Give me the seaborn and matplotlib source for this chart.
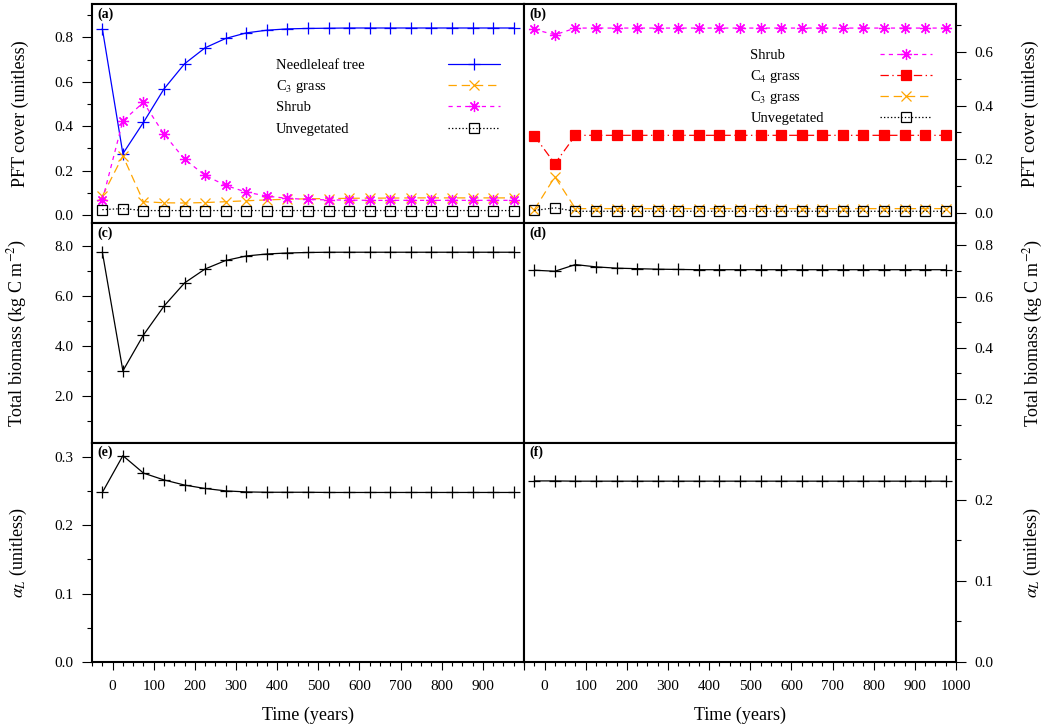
import matplotlib
matplotlib.use("Agg")
import matplotlib.pyplot as plt
import seaborn as sns
from matplotlib.ticker import MultipleLocator, FormatStrFormatter, FuncFormatter
from matplotlib.lines import Line2D

# time axis (years), one point every 50 years
years = [-25, 25, 75, 125, 175, 225, 275, 325, 375, 425, 475,
         525, 575, 625, 675, 725, 775, 825, 875, 925, 975]

# (a) PFT cover, left site
a_needleleaf = [0.839, 0.276, 0.417, 0.568, 0.681, 0.753, 0.795, 0.820, 0.832, 0.838, 0.840,
                0.841, 0.842, 0.842, 0.842, 0.842, 0.842, 0.842, 0.842, 0.842, 0.842]
a_c3 = [0.085, 0.266, 0.060, 0.055, 0.054, 0.056, 0.060, 0.064, 0.068, 0.071, 0.073,
        0.074, 0.075, 0.076, 0.076, 0.077, 0.077, 0.077, 0.077, 0.077, 0.077]
a_shrub = [0.066, 0.424, 0.507, 0.364, 0.251, 0.178, 0.133, 0.103, 0.085, 0.075, 0.070,
           0.068, 0.067, 0.066, 0.066, 0.066, 0.066, 0.066, 0.066, 0.066, 0.066]
a_unveg = [0.024, 0.029, 0.020, 0.020, 0.020, 0.020, 0.020, 0.020, 0.020, 0.020, 0.020,
           0.020, 0.020, 0.020, 0.020, 0.020, 0.020, 0.020, 0.020, 0.020, 0.020]

# (b) PFT cover, right site
b_shrub = [0.685, 0.665, 0.690, 0.690, 0.690, 0.690, 0.690, 0.690, 0.690, 0.690, 0.690,
           0.690, 0.690, 0.690, 0.690, 0.690, 0.690, 0.690, 0.690, 0.690, 0.690]
b_c4 = [0.287, 0.183, 0.289, 0.289, 0.289, 0.289, 0.289, 0.289, 0.289, 0.289, 0.289,
        0.289, 0.289, 0.289, 0.289, 0.289, 0.289, 0.289, 0.289, 0.289, 0.289]
b_c3 = [0.011, 0.134, 0.015, 0.015, 0.015, 0.015, 0.015, 0.015, 0.015, 0.015, 0.015,
        0.015, 0.015, 0.015, 0.015, 0.015, 0.015, 0.015, 0.015, 0.015, 0.015]
b_unveg = [0.008, 0.018, 0.005, 0.005, 0.005, 0.005, 0.005, 0.005, 0.005, 0.005, 0.005,
           0.005, 0.005, 0.005, 0.005, 0.005, 0.005, 0.005, 0.005, 0.005, 0.005]

# (c), (d) total biomass
c_biomass = [7.77, 3.00, 4.44, 5.60, 6.53, 7.09, 7.43, 7.61, 7.69, 7.73, 7.75,
             7.76, 7.76, 7.76, 7.76, 7.76, 7.76, 7.76, 7.76, 7.76, 7.76]
d_biomass = [0.703, 0.699, 0.725, 0.716, 0.711, 0.709, 0.707, 0.706, 0.705, 0.705, 0.705,
             0.705, 0.705, 0.705, 0.705, 0.705, 0.705, 0.705, 0.705, 0.705, 0.705]

# (e), (f) alpha_L
e_alpha = [0.2477, 0.3015, 0.276, 0.266, 0.2585, 0.2535, 0.250, 0.2485, 0.248, 0.248, 0.248,
           0.2477, 0.2477, 0.2477, 0.2477, 0.2477, 0.2477, 0.2477, 0.2477, 0.2477, 0.2477]
f_alpha = [0.2233, 0.2233, 0.223, 0.223, 0.223, 0.223, 0.223, 0.223, 0.223, 0.223, 0.223,
           0.223, 0.223, 0.223, 0.223, 0.223, 0.223, 0.223, 0.223, 0.223, 0.223]

sns.set_style("ticks")
plt.rcParams["font.family"] = ["Liberation Serif", "DejaVu Serif"]
plt.rcParams["mathtext.fontset"] = "stix"
plt.rcParams["lines.scale_dashes"] = False
plt.rcParams["text.color"] = "black"
plt.rcParams["axes.labelcolor"] = "black"
plt.rcParams["axes.edgecolor"] = "black"
plt.rcParams["xtick.color"] = "black"
plt.rcParams["ytick.color"] = "black"

styles = {
    "Needleleaf tree": dict(color="#0000ff", marker="+", linestyle="-", markersize=8,
                            markerfacecolor="none"),
    "C$_3$ grass": dict(color="#ffa500", marker="x", linestyle=(0, (6, 3.5)), markersize=6.5,
                        markerfacecolor="none"),
    "Shrub": dict(color="#ff00ff", marker=(8, 2, 0), linestyle=(0, (3, 3)), markersize=8,
                  markerfacecolor="none"),
    "C$_4$ grass": dict(color="#ff0000", marker="s", linestyle=(0, (6, 2.5, 1, 2.5)),
                        markersize=7, markerfacecolor="#ff0000"),
    "Unvegetated": dict(color="black", marker="s", linestyle=(0, (1, 1.5)), markersize=7,
                        markerfacecolor="none"),
}


def draw_series(ax, y, name):
    st = styles[name]
    sns.lineplot(x=years, y=y, ax=ax, color=st["color"], marker=st["marker"],
                 linestyle=st["linestyle"], markersize=st["markersize"],
                 markerfacecolor=st["markerfacecolor"], markeredgecolor=st["color"],
                 markeredgewidth=0.9, linewidth=0.9, errorbar=None)


def draw_key(ax, names, x_text, x0, x1, y_top, step):
    for i, name in enumerate(names):
        st = styles[name]
        y = y_top - i * step
        ax.text(x_text, y - 0.023, name, transform=ax.transAxes, fontsize=10.5,
                ha="left", va="baseline")
        ax.add_line(Line2D([x0, (x0 + x1) / 2, x1], [y, y, y], transform=ax.transAxes,
                           color=st["color"], linestyle=st["linestyle"], linewidth=0.9,
                           marker=st["marker"], markevery=[1], markersize=st["markersize"],
                           markerfacecolor=st["markerfacecolor"],
                           markeredgecolor=st["color"], markeredgewidth=0.9,
                           clip_on=False))


fig, axes = plt.subplots(3, 2, figsize=(10.47, 7.28), dpi=100)
fig.subplots_adjust(left=0.0879, right=0.9131, top=0.9945, bottom=0.0907,
                    wspace=0, hspace=0)

# panel (a)
ax = axes[0, 0]
draw_series(ax, a_needleleaf, "Needleleaf tree")
draw_series(ax, a_c3, "C$_3$ grass")
draw_series(ax, a_shrub, "Shrub")
draw_series(ax, a_unveg, "Unvegetated")
draw_key(ax, ["Needleleaf tree", "C$_3$ grass", "Shrub", "Unvegetated"],
         0.425, 0.824, 0.945, 0.728, 0.0973)

# panel (b)
ax = axes[0, 1]
draw_series(ax, b_shrub, "Shrub")
draw_series(ax, b_c4, "C$_4$ grass")
draw_series(ax, b_c3, "C$_3$ grass")
draw_series(ax, b_unveg, "Unvegetated")
draw_key(ax, ["Shrub", "C$_4$ grass", "C$_3$ grass", "Unvegetated"],
         0.524, 0.823, 0.944, 0.774, 0.096)

black = dict(color="black", marker="+", markersize=8, markeredgecolor="black",
             markeredgewidth=0.9, linewidth=0.9, errorbar=None)
sns.lineplot(x=years, y=c_biomass, ax=axes[1, 0], **black)
sns.lineplot(x=years, y=d_biomass, ax=axes[1, 1], **black)
sns.lineplot(x=years, y=e_alpha, ax=axes[2, 0], **black)
sns.lineplot(x=years, y=f_alpha, ax=axes[2, 1], **black)

ylims = [[(-0.0375, 0.95), (-0.04, 0.78)],
         [(0.12, 8.92), (0.03, 0.886)],
         [(0.0, 0.3205), (0.0, 0.2705)]]
majors = [[0.2, 0.2], [2.0, 0.2], [0.1, 0.1]]
minors = [[0.1, 0.1], [1.0, 0.1], [0.05, 0.05]]
ylabels = ["PFT cover (unitless)", "Total biomass (kg C m$^{-2}$)", r"$\alpha_L$ (unitless)"]
tags = [["(a)", "(b)"], ["(c)", "(d)"], ["(e)", "(f)"]]

for r in range(3):
    for c in range(2):
        ax = axes[r, c]
        ax.set_xlim(-50, 1000)
        ax.set_ylim(*ylims[r][c])
        ax.yaxis.set_major_locator(MultipleLocator(majors[r][c]))
        ax.yaxis.set_minor_locator(MultipleLocator(minors[r][c]))
        ax.yaxis.set_major_formatter(FormatStrFormatter("%.1f"))
        ax.xaxis.set_major_locator(MultipleLocator(100))
        ax.xaxis.set_minor_locator(MultipleLocator(25))
        for s in ax.spines.values():
            s.set_linewidth(1.5)
            s.set_color("black")
            s.set_visible(True)
        ax.tick_params(axis="y", which="major", length=7.5, width=0.8, direction="out",
                       labelsize=11, pad=6)
        ax.tick_params(axis="y", which="minor", length=3.5, width=0.8, direction="out")
        ax.tick_params(axis="x", which="major", length=6, width=0.8, direction="out",
                       labelsize=11, pad=7)
        ax.tick_params(axis="x", which="minor", length=2.8, width=0.8, direction="out")
        if r < 2:
            ax.tick_params(axis="x", which="both", bottom=False, labelbottom=False)
            ax.set_xlabel("")
        else:
            ax.set_xlabel("Time (years)", fontsize=13)
            ax.xaxis.set_label_coords(0.5, -0.205)
            ax.xaxis.label.set_verticalalignment("top")
        if c == 0:
            ax.yaxis.tick_left()
            ax.set_ylabel(ylabels[r], fontsize=13)
            ax.yaxis.set_label_coords(-0.146, 0.5)
        else:
            ax.yaxis.tick_right()
            ax.yaxis.set_label_position("right")
            ax.set_ylabel(ylabels[r], fontsize=13, rotation=90)
            ax.yaxis.set_label_coords(1.153, 0.5)
        ax.text(0.012, 0.985, tags[r][c], transform=ax.transAxes, fontsize=10,
                fontweight="bold", ha="left", va="top")

axes[2, 0].xaxis.set_major_formatter(FuncFormatter(lambda v, p: "" if v >= 1000 else f"{v:.0f}"))
axes[2, 1].xaxis.set_major_formatter(FuncFormatter(lambda v, p: f"{v:.0f}"))

fig.savefig("out.png", dpi=100)
